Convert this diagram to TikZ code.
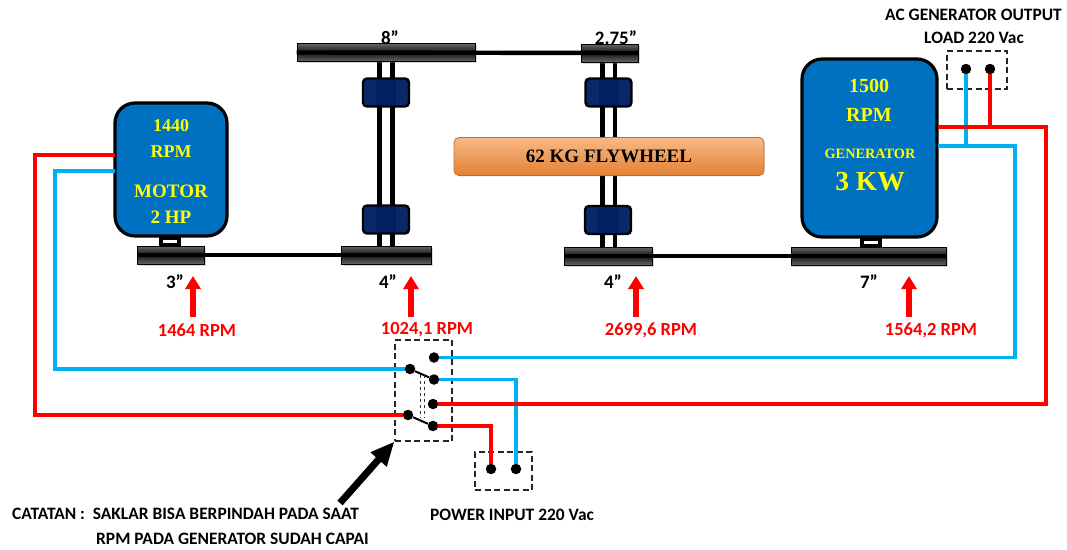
\documentclass[tikz,border=0pt]{standalone}
\usepackage{fontspec}
\setmainfont{Liberation Serif}
\newfontfamily\labelfont{Carlito}
\usetikzlibrary{arrows.meta,shadows}
\definecolor{MotorBlue}{RGB}{0,112,192}
\definecolor{CoupleBlue}{RGB}{10,40,105}
\definecolor{CoupleDark}{RGB}{0,32,96}
\definecolor{WireBlue}{RGB}{0,176,240}
\definecolor{WireRed}{RGB}{255,0,0}
\definecolor{TextYellow}{RGB}{255,255,0}
\definecolor{WheelTop}{RGB}{249,186,134}
\definecolor{WheelMid}{RGB}{247,150,70}
\definecolor{WheelLow}{RGB}{226,128,52}
\newcommand{\fsize}[1]{\fontsize{#1}{#1}\selectfont}
\begin{document}
\begin{tikzpicture}[
x=1pt,y=-1pt,
machine/.style={rectangle,rounded corners=20pt,draw=black,line width=3.2pt,fill=MotorBlue,inner sep=0pt},
plate/.style={rectangle,draw=black,line width=.6pt,top color=black!60,bottom color=black!60,middle color=black!92,inner sep=0pt,minimum height=18pt,drop shadow={opacity=.3,shadow xshift=1.5pt,shadow yshift=-1.5pt}},
neck/.style={rectangle,draw=black,line width=4pt,inner sep=0pt,minimum width=18pt,minimum height=7pt},
couple/.style={rectangle,rounded corners=4pt,draw=black,line width=2.4pt,fill=CoupleBlue,inner sep=0pt,minimum width=46pt,minimum height=28pt},
coreblock/.style={rectangle,fill=CoupleDark,inner sep=0pt,minimum width=20pt,minimum height=25pt},
wheel/.style={rectangle,rounded corners=5pt,draw=WheelLow!85!black,line width=.8pt,top color=WheelTop,middle color=WheelMid,bottom color=WheelLow,inner sep=0pt,minimum width=310pt,minimum height=38pt,font=\bfseries\fsize{19},drop shadow={opacity=.2,shadow xshift=1pt,shadow yshift=-1pt}},
dot/.style={circle,fill=black,inner sep=0pt,minimum size=10.5pt},
dashbox/.style={draw=black!85,dash pattern=on 6pt off 3.5pt,line width=1.1pt},
redwire/.style={draw=WireRed,line width=3.6pt},
bluewire/.style={draw=WireBlue,line width=3.6pt},
belt/.style={draw=black,line width=4.2pt},
shaft/.style={draw=black,line width=4.4pt},
speedarrow/.style={draw=WireRed,line width=6pt,-{Triangle[length=13pt,width=15pt]}},
rpmtext/.style={font=\labelfont\bfseries\fsize{18.5},text=WireRed,inner sep=0pt},
sizetext/.style={font=\labelfont\bfseries\fsize{19},inner sep=0pt},
notetext/.style={font=\labelfont\bfseries\fsize{17.4},inner sep=0pt}
]
\useasboundingbox (0,0) rectangle (1067,549);
% machines
\node[neck] (motorneck) at (170,241.5) {};
\node[neck] (genneck) at (870.5,242.5) {};
\node[machine,minimum width=112pt,minimum height=133pt] (motor) at (171,169.5) {};
\node[machine,minimum width=135pt,minimum height=178pt] (gen) at (869.5,148) {};
\node[text=TextYellow,font=\bfseries\fsize{18},inner sep=0pt] (motorrpm) at (171,141) {\begin{tabular}{c}1440\\[8pt]RPM\end{tabular}};
\node[text=TextYellow,font=\bfseries\fsize{19},inner sep=0pt] (motorhp) at (171,207) {\begin{tabular}{c}MOTOR\\[7pt]2 HP\end{tabular}};
\node[text=TextYellow,font=\bfseries\fsize{20},inner sep=0pt] (genrpm) at (869,103) {\begin{tabular}{c}1500\\[9pt]RPM\end{tabular}};
\node[text=TextYellow,font=\bfseries\fsize{14.3},inner sep=0pt] (gentext) at (870,154) {GENERATOR};
\node[text=TextYellow,font=\bfseries\fsize{27.5},inner sep=0pt] (genkw) at (870,181.5) {3 KW};
% belts
\draw[belt] (379.5,62) -- (379.5,246) (392.5,62) -- (392.5,246);
\draw[belt] (602.5,62) -- (602.5,247) (615,62) -- (615,247);
% pulleys
\node[plate,minimum width=178pt] (p8) at (386,52.5) {};
\node[plate,minimum width=57pt] (p275) at (609.5,53) {};
\node[plate,minimum width=67pt] (p3) at (170.5,255) {};
\node[plate,minimum width=90pt] (p4a) at (386,255) {};
\node[plate,minimum width=88pt] (p4b) at (608,256) {};
\node[plate,minimum width=155pt] (p7) at (868.5,256) {};
\draw[shaft] (p8.west) -- (p275.east);
\draw[shaft] (p3.west) -- (p4a.east);
\draw[shaft] (p4b.west) -- (p7.east);
% couplings
\foreach \name/\cx/\cy in {ca/386/92.5,cb/386/219.5,cc/608.5/92.5,cd/608/220}{
\node[couple] (\name) at (\cx,\cy) {};
\node[coreblock] (\name core) at (\cx,\cy) {};
}
\node[wheel] (flywheel) at (609,156.5) {62 KG FLYWHEEL};
% pulley sizes
\node[sizetext] (s3) at (175,282) {3”};
\node[sizetext] (s4a) at (388,282) {4”};
\node[sizetext] (s4b) at (613,282) {4”};
\node[sizetext] (s7) at (869,282) {7”};
\node[sizetext] (s8) at (390,38) {8”};
\node[sizetext] (s275) at (616,38) {2.75”};
% speeds
\node[rpmtext] (r1) at (197,330) {1464 RPM};
\node[rpmtext] (r2) at (427,330) {1024,1 RPM};
\node[rpmtext] (r3) at (651,330) {2699,6 RPM};
\node[rpmtext] (r4) at (931,330) {1564,2 RPM};
\foreach \cx/\rname in {193/r1,411/r2,636/r3,909/r4}{
\draw[speedarrow] (\cx,317) -- (\cx,276);
}
% terminals
\node[dashbox,minimum width=60pt,minimum height=38pt,inner sep=0pt] (outbox) at (977,70) {};
\node[dashbox,minimum width=57pt,minimum height=101pt,inner sep=0pt] (swbox) at (423.5,390.5) {};
\node[dashbox,minimum width=57pt,minimum height=38pt,inner sep=0pt] (inbox) at (503.5,471) {};
\node[dot] (outb) at (966,69) {};
\node[dot] (outr) at (990,69) {};
\node[dot] (inr) at (491,469) {};
\node[dot] (inb) at (516,469) {};
\node[dot] (swa) at (434,357.5) {};
\node[dot] (swb) at (410,369) {};
\node[dot] (swc) at (434,379.5) {};
\node[dot] (swd) at (433,404) {};
\node[dot] (swe) at (408,415) {};
\node[dot] (swf) at (433,426) {};
\coordinate (motorr) at (115,155);
\coordinate (motorb) at (115,171);
\coordinate (genr) at (938,127);
\coordinate (genb) at (938,146);
% wires
\draw[bluewire] (motorb) -- +(-60,0) |- (swb);
\draw[bluewire] (genb) -- +(77,0) |- (swa);
\draw[bluewire] (outb) -- (outb |- genb);
\draw[bluewire] (swc) -| (inb);
\draw[redwire] (motorr) -- +(-80,0) |- (swe);
\draw[redwire] (genr) -- +(108,0) |- (swd);
\draw[redwire] (outr) -- (outr |- genr);
\draw[redwire] (swf) -| (inr);
% switch
\draw[line width=2pt] (swb) -- (swc);
\draw[line width=2pt] (swe) -- (swf);
\draw[dashed,draw=black!80,line width=.8pt] (420.5,375) -- (420.5,418) (424,375) -- (424,418);
% notes
\coordinate (notetail) at (340,503);
\draw[line width=7pt,-{Triangle[length=24pt,width=20pt]}] (notetail) -- (swbox.south west);
\node[notetext,anchor=west] (acout) at (885,15) {AC GENERATOR OUTPUT};
\node[notetext,anchor=west] (load) at (924,38) {LOAD 220 Vac};
\node[notetext,anchor=west] (power) at (430,515) {POWER INPUT 220 Vac};
\node[notetext,anchor=west] (note1) at (12,514) {CATATAN :\ \ SAKLAR BISA BERPINDAH PADA SAAT};
\node[notetext,anchor=west] (note2) at (96,539) {RPM PADA GENERATOR SUDAH CAPAI};
\end{tikzpicture}
\end{document}
